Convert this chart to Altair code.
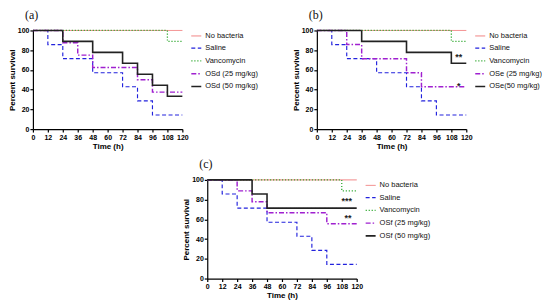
import altair as alt
import pandas as pd

# ---------------- data ----------------
saline_t = [0, 12, 24, 48, 72, 84, 96, 120]
saline_v = [100, 85.7, 71.4, 57.1, 42.9, 28.6, 14.3, 14.3]
nobac_t = [0, 120]
nobac_v = [100, 100]
vanco_t = [0, 108, 120]
vanco_v = [100, 88.9, 88.9]

# panel (a)
a_groups = ["No bacteria", "Saline", "Vancomycin", "OSd (25 mg/kg)", "OSd (50 mg/kg)"]
osd25_t = [0, 24, 36, 48, 84, 96, 120]
osd25_v = [100, 87.5, 75, 62.5, 50, 37.5, 37.5]
osd50_t = [0, 24, 48, 72, 84, 96, 108, 120]
osd50_v = [100, 88.9, 77.8, 66.7, 55.6, 44.4, 33.3, 33.3]
a_star_x = []
a_star_y = []
a_star_t = []

# panel (b)
b_groups = ["No bacteria", "Saline", "Vancomycin", "OSe (25 mg/kg)", "OSe(50 mg/kg)"]
ose25_t = [0, 24, 36, 72, 84, 120]
ose25_v = [100, 85.7, 71.4, 57.1, 42.9, 42.9]
ose50_t = [0, 36, 72, 108, 120]
ose50_v = [100, 88.9, 77.8, 66.7, 66.7]
b_star_x = [114, 114]
b_star_y = [73, 44]
b_star_t = ["**", "*"]

# panel (c)
c_groups = ["No bacteria", "Saline", "Vancomycin", "OSf (25 mg/kg)", "OSf (50 mg/kg)"]
osf25_t = [0, 24, 36, 48, 96, 120]
osf25_v = [100, 88.9, 77.8, 66.7, 55.6, 55.6]
osf50_t = [0, 36, 48, 120]
osf50_v = [100, 85.7, 71.4, 71.4]
c_star_x = [112, 113]
c_star_y = [79, 61]
c_star_t = ["***", "**"]

colors = ["#f07878", "#2222dd", "#33aa33", "#a020d0", "#222222"]
dashes = [[1, 0], [4, 2.5], [1.2, 1.8], [5, 2, 1.5, 2], [1, 0]]
widths = [1.0, 1.6, 1.3, 1.5, 1.5]

x_ticks = list(range(0, 121, 12))
y_ticks = [0, 20, 40, 60, 80, 100]

FONT = "Liberation Sans"


def panel(label, groups, series, sx, sy, st):
    rows = []
    for g, (ts, vs) in zip(groups, series):
        for t, v in zip(ts, vs):
            rows.append({"group": g, "time": t, "surv": v})
    df = pd.DataFrame(rows)
    x = alt.X("time:Q", scale=alt.Scale(domain=[0, 120], nice=False),
              axis=alt.Axis(values=x_ticks, title="Time (h)"))
    y = alt.Y("surv:Q", scale=alt.Scale(domain=[0, 100], nice=False),
              axis=alt.Axis(values=y_ticks, title="Percent survival"))
    lines = alt.Chart(df).mark_line(interpolate="step-after").encode(
        x=x, y=y,
        color=alt.Color("group:N", scale=alt.Scale(domain=groups, range=colors),
                        legend=alt.Legend(title=None, orient="right", offset=4,
                                          symbolType="stroke", symbolSize=100,
                                          symbolStrokeWidth=1.5, labelOffset=3,
                                          labelFont=FONT, labelFontSize=7.5,
                                          labelColor="#111", rowPadding=2.8,
                                          padding=0)),
        strokeDash=alt.StrokeDash("group:N", scale=alt.Scale(domain=groups, range=dashes), legend=None),
        strokeWidth=alt.StrokeWidth("group:N", scale=alt.Scale(domain=groups, range=widths), legend=None),
        detail="group:N",
    )
    layers = [lines]
    if sx:
        sdf = pd.DataFrame({"time": sx, "surv": sy, "txt": st})
        stars = alt.Chart(sdf).mark_text(font=FONT, fontSize=9, fontWeight="bold", color="#222").encode(
            x=x, y=y, text="txt:N")
        layers.append(stars)
    return alt.layer(*layers).properties(
        width=150, height=99,
        title=alt.TitleParams(label, anchor="start", frame="group", dx=-8,
                              font="Liberation Serif", fontSize=12, fontWeight="normal",
                              offset=5, color="#111"),
    )


pa = panel("(a)", a_groups,
           [(nobac_t, nobac_v), (saline_t, saline_v), (vanco_t, vanco_v), (osd25_t, osd25_v), (osd50_t, osd50_v)],
           a_star_x, a_star_y, a_star_t)
pb = panel("(b)", b_groups,
           [(nobac_t, nobac_v), (saline_t, saline_v), (vanco_t, vanco_v), (ose25_t, ose25_v), (ose50_t, ose50_v)],
           b_star_x, b_star_y, b_star_t)
pc = panel("(c)", c_groups,
           [(nobac_t, nobac_v), (saline_t, saline_v), (vanco_t, vanco_v), (osf25_t, osf25_v), (osf50_t, osf50_v)],
           c_star_x, c_star_y, c_star_t)

spacer = alt.Chart(pd.DataFrame({"v": [0]})).mark_point(opacity=0, size=1).encode(
    x=alt.value(20), y=alt.value(5)).properties(width=140, height=10)

res = dict(color="independent", strokeDash="independent", strokeWidth="independent")
row1 = alt.hconcat(pa, pb, spacing=34).resolve_scale(**res).resolve_legend(color="independent")
row2 = alt.hconcat(spacer, pc, spacing=10).resolve_scale(**res).resolve_legend(color="independent")

chart = alt.vconcat(row1, row2, spacing=8, center=False).resolve_scale(**res).resolve_legend(
    color="independent").properties(padding=0).configure_view(stroke=None).configure_axis(
    grid=False, domainColor="#000", tickColor="#000", tickSize=3, domainWidth=1.2, tickWidth=1.2,
    labelFont=FONT, labelFontSize=7, labelFontWeight="bold", labelColor="#000", labelPadding=1,
    labelOverlap=False, labelFlush=False, labelBound=False,
    titleFont=FONT, titleFontSize=8, titleFontWeight="bold", titleColor="#000", titlePadding=1,
).configure_axisX(labelAngle=0, titlePadding=2)

chart.save("out.html", embed_options={"renderer": "svg", "actions": False})
